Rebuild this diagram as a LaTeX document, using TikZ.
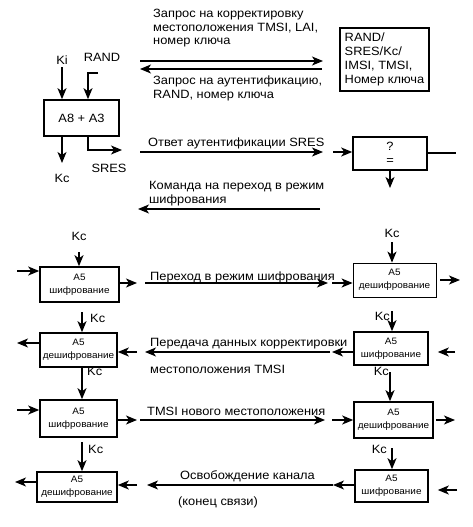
\documentclass[tikz,border=0pt]{standalone}
\usepackage{fontspec}
\setmainfont{Liberation Sans}[FakeStretch=1.07]
\usepackage{tikz}
\usetikzlibrary{arrows.meta}
\tikzstyle{arrow} = [line width=1.4pt,-{Stealth[length=11pt,width=9pt,inset=3pt]}]
\tikzstyle{block} = [draw, line width=1.6pt, inner sep=0pt, align=center]
\tikzstyle{txt} = [anchor=base west, inner sep=0pt, align=left]
\tikzstyle{small} = [font=\fontsize{9.3}{13}\selectfont]

\begin{document}
\begin{tikzpicture}[x=1pt, y=-1pt, font=\fontsize{12}{13.8}\selectfont]
  \useasboundingbox (0,0) rectangle (472,527);

  % Алгоритм A8 + A3
  \node[block, minimum width=75pt, minimum height=36pt] (alg) at (81.5,118) {A8 + A3};
  \node[anchor=base, inner sep=0pt] (ki) at (62,64) {Ki};
  \node[anchor=base, inner sep=0pt] (rand) at (102,62) {RAND};
  \coordinate (randin) at (98,73);
  \coordinate (randx) at (88,73);
  \coordinate (kcout) at (62,163);
  \coordinate (sresout) at (122,150);
  \draw[arrow] (ki.south) ++(0,3) coordinate (kitop) -- (kitop |- alg.north);
  \draw[arrow] (randin) -- (randx) -- (randx |- alg.north);
  \draw[arrow] (kcout |- alg.south) -- (kcout);
  \draw[arrow] (randx |- alg.south) |- (sresout);
  \node[anchor=base, inner sep=0pt] (kc0) at (62,182) {Kc};
  \node[anchor=base, inner sep=0pt] (sres) at (109,172) {SRES};

  % Запросы и база данных
  \node[block, minimum width=89pt, minimum height=63pt, align=left] (db) at (384.5,59.5)
    {RAND/\\SRES/Kc/\\IMSI, TMSI,\\Номер ключа};
  \coordinate (m1a) at (140,61);
  \coordinate (m1b) at (323,61);
  \coordinate (m2a) at (322,69);
  \coordinate (m2b) at (140,69);
  \draw[arrow] (m1a) -- (m1b);
  \draw[arrow] (m2a) -- (m2b);
  \node[txt] (t1) at (153,45) {Запрос на корректировку\\местоположения TMSI, LAI,\\номер ключа};
  \node[txt] (t2) at (153,98) {Запрос на аутентификацию,\\RAND, номер ключа};

  % Сравнение SRES
  \node[block, minimum width=74pt, minimum height=33pt, font=\fontsize{12}{14}\selectfont] (cmp) at (390,153.5) {?\\=};
  \coordinate (m3a) at (140,152);
  \coordinate (m3b) at (323,152);
  \coordinate (m3c) at (333,152);
  \coordinate (cmpout) at (456,153);
  \coordinate (cmpdown) at (390,188);
  \draw[arrow] (m3a) -- (m3b);
  \draw[arrow] (m3c) -- (m3c -| cmp.west);
  \draw[line width=1.4pt] (cmp.east |- cmpout) -- (cmpout);
  \draw[arrow] (cmp.south) -- (cmpdown);
  \node[txt] (t3) at (148,146) {Ответ аутентификации SRES};
  \coordinate (m4a) at (320,209);
  \coordinate (m4b) at (138,209);
  \draw[arrow] (m4a) -- (m4b);
  \node[txt] (t4) at (149,203) {Команда на переход в режим\\шифрования};

  % Блоки A5
  \node[block, small, minimum width=79pt, minimum height=35pt] (L1) at (79.5,284.5) {A5\\шифрование};
  \node[block, small, minimum width=77pt, minimum height=34pt] (L2) at (78.5,350) {A5\\дешифрование};
  \node[block, small, minimum width=77pt, minimum height=37pt] (L3) at (78.5,418.5) {A5\\шифрование};
  \node[block, small, minimum width=80pt, minimum height=30pt] (L4) at (77,487) {A5\\дешифрование};
  \node[block, small, line width=0.8pt, minimum width=83pt, minimum height=34pt] (R1) at (394.5,280) {A5\\дешифрование};
  \node[block, small, minimum width=74pt, minimum height=33pt] (R2) at (391,348.5) {A5\\шифрование};
  \node[block, small, minimum width=79pt, minimum height=36pt] (R3) at (393.5,420) {A5\\дешифрование};
  \node[block, small, minimum width=73pt, minimum height=32pt] (R4) at (391.5,486) {A5\\шифрование};

  % Ключи Kc
  \foreach \b/\x/\y/\lx/\ly/\pos in {L1/79/252/79/240/base, R1/392/242/392/237/base,
      L2/82/312/90/322/base west, R2/392/311/390/320/base east,
      L3/82/366/87/375/base west, R3/390/372/389/375/base east,
      L4/82/442/88/453/base west, R4/392/448/387/453/base east} {
    \coordinate (kc\b) at (\x,\y);
    \draw[arrow] (kc\b) -- (kc\b |- \b.north);
    \node[anchor=\pos, inner sep=0pt] (kcl\b) at (\lx,\ly) {Kc};
  }

  % Переход в режим шифрования
  \coordinate (in1) at (17,271);
  \coordinate (out1) at (137,283);
  \coordinate (m5a) at (145,283);
  \coordinate (m5b) at (328,283);
  \coordinate (m5c) at (332,283);
  \coordinate (rout1) at (460,280);
  \draw[arrow] (in1) -- (in1 -| L1.west);
  \draw[arrow] (out1 -| L1.east) -- (out1);
  \draw[arrow] (m5a) -- (m5b);
  \draw[arrow] (m5c) -- (m5c -| R1.west);
  \draw[arrow, shorten <=4pt] (rout1 -| R1.east) -- (rout1);
  \node[txt] (t5) at (150,280) {Переход в режим шифрования};

  % Передача данных корректировки
  \coordinate (out2) at (17,343);
  \coordinate (in2) at (137,352);
  \coordinate (m6a) at (330,352);
  \coordinate (m6b) at (145,352);
  \coordinate (m6c) at (332,352);
  \coordinate (rin2) at (455,352);
  \draw[arrow] (out2 -| L2.west) -- (out2);
  \draw[arrow] (in2) -- (in2 -| L2.east);
  \draw[arrow] (m6a) -- (m6b);
  \draw[arrow] (m6c -| R2.west) -- (m6c);
  \draw[arrow, shorten >=9pt] (rin2) -- (rin2 -| R2.east);
  \node[txt] (t6) at (150,346) {Передача данных корректировки};
  \node[txt] (t6b) at (150,373) {местоположения TMSI};

  % TMSI нового местоположения
  \coordinate (in3) at (17,410);
  \coordinate (out3) at (137,420);
  \coordinate (m7a) at (140,420);
  \coordinate (m7b) at (325,420);
  \coordinate (m7c) at (332,420);
  \coordinate (rout3) at (455,420);
  \draw[arrow] (in3) -- (in3 -| L3.west);
  \draw[arrow] (out3 -| L3.east) -- (out3);
  \draw[arrow] (m7a) -- (m7b);
  \draw[arrow] (m7c) -- (m7c -| R3.west);
  \draw[arrow, shorten <=2pt] (rout3 -| R3.east) -- (rout3);
  \node[txt] (t7) at (147,415) {TMSI нового местоположения};

  % Освобождение канала
  \coordinate (out4) at (15,482);
  \coordinate (in4) at (137,485);
  \coordinate (m8a) at (333,485);
  \coordinate (m8b) at (147,485);
  \coordinate (rin4) at (457,490);
  \draw[arrow] (out4 -| L4.west) -- (out4);
  \draw[arrow] (in4) -- (in4 -| L4.east);
  \draw[arrow] (m8a) -- (m8b);
  \draw[arrow] (m8a -| R4.west) -- (m8a);
  \draw[arrow, shorten >=9pt] (rin4) -- (rin4 -| R4.east);
  \node[txt] (t8) at (180,479) {Освобождение канала};
  \node[txt] (t8b) at (178,505) {(конец связи)};
\end{tikzpicture}
\end{document}
